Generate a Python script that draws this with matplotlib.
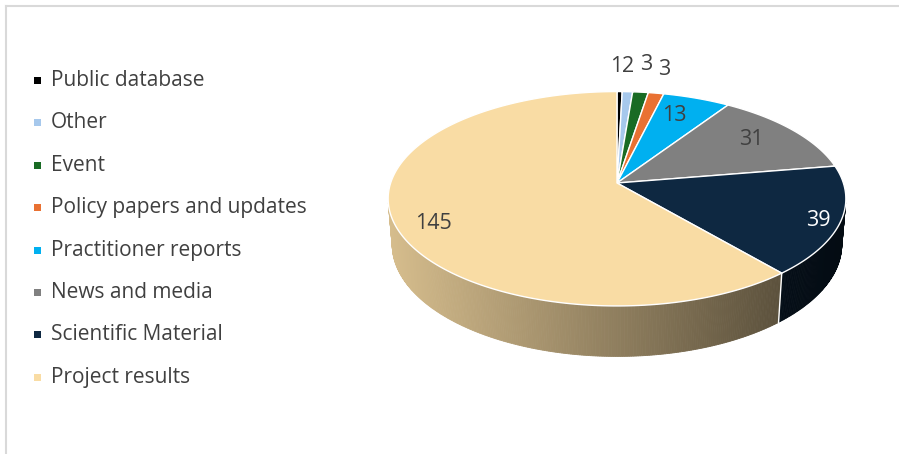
import numpy as np
import matplotlib.pyplot as plt
from matplotlib.patches import Polygon, Rectangle

# categories and counts, in drawing order (clockwise from 12 o'clock)
categories = ["Public database", "Other", "Event", "Policy papers and updates",
              "Practitioner reports", "News and media", "Scientific Material",
              "Project results"]
counts = [1, 2, 3, 3, 13, 31, 39, 145]
colors = ["#000000", "#A6C8EC", "#196B24", "#E97132",
          "#00B0F0", "#808080", "#0E2841", "#F9DCA4"]
label_colors = ["#404040"] * 6 + ["#FFFFFF", "#404040"]

# label placement: radius on the top face and pixel nudge
label_radius = [1.3, 1.3, 1.3, 1.3, 0.8, 0.8, 0.9, 0.82]
label_nudge = [(-4, -2), (-2, -2), (0, -5), (-2, -1), (-8, 2), (-8, -1), (1, 3), (-2, 10)]

FONT = "Open Sans"

W, H_PX = 899, 454
fig = plt.figure(figsize=(W / 100, H_PX / 100), dpi=100)
ax = fig.add_axes([0, 0, 1, 1])
ax.set_xlim(0, W)
ax.set_ylim(H_PX, 0)
ax.axis("off")

# perspective camera for the cylinder
phi = np.radians(27.6)
D = 6.03
F = 1365.0
CX, CY = 617.0, 183.0
THICK = 0.23


def project(theta, r, z):
    X = r * np.sin(theta)
    Y = r * np.cos(theta)
    v = Y * np.sin(phi) + z * np.cos(phi)
    w = Y * np.cos(phi) - z * np.sin(phi)
    s = F / (D + w)
    return CX + X * s, CY - v * s, w


def wall_factor(x):
    # lighter on the left, darker towards the right
    t = np.clip((x - 388) / 400.0, 0, 1.2)
    return 0.86 - 0.50 * t


def shade(color, f):
    c = np.array(plt.matplotlib.colors.to_rgb(color))
    return tuple(np.clip(c * f, 0, 1))


total = sum(counts)
bounds = np.concatenate([[0], np.cumsum(counts)]) / total * 2 * np.pi

# side walls
quads = []
for i, col in enumerate(colors):
    a0, a1 = bounds[i], bounds[i + 1]
    n = max(2, int(np.degrees(a1 - a0) * 2))
    ts = np.linspace(a0, a1, n + 1)
    for t0, t1 in zip(ts[:-1], ts[1:]):
        tm = 0.5 * (t0 + t1)
        if np.cos(tm) >= -1 / (D * np.cos(phi)):
            continue
        p0 = project(t0, 1, 0)
        p1 = project(t1, 1, 0)
        p2 = project(t1, 1, -THICK)
        p3 = project(t0, 1, -THICK)
        xm = 0.5 * (p0[0] + p1[0])
        fc = shade(col, wall_factor(xm))
        quads.append((p0[2], [(p0[0], p0[1]), (p1[0], p1[1]),
                              (p2[0], p2[1]), (p3[0], p3[1])], fc))
quads.sort(key=lambda q: -q[0])
for _, pts, fc in quads:
    ax.add_patch(Polygon(pts, closed=True, facecolor=fc, edgecolor=fc,
                         lw=0.6, zorder=2))

# white seams where slice boundaries meet the visible wall
for b in bounds[1:-1]:
    if np.cos(b) < -1 / (D * np.cos(phi)):
        xa, ya, _ = project(b, 1, 0)
        xb, yb, _ = project(b, 1, -THICK)
        ax.plot([xa, xb], [ya, yb], color="white", lw=1.0, zorder=3)

# top face
for i, col in enumerate(colors):
    ts = np.linspace(bounds[i], bounds[i + 1], 200)
    xs, ys, _ = project(ts, 1, 0)
    pts = [(CX, CY)] + list(zip(xs, ys))
    ax.add_patch(Polygon(pts, closed=True, facecolor=col, edgecolor="white",
                         lw=1.0, joinstyle="round", zorder=4))

# value labels
for i, val in enumerate(counts):
    tm = 0.5 * (bounds[i] + bounds[i + 1])
    x, y, _ = project(tm, label_radius[i], 0)
    dx, dy = label_nudge[i]
    ax.text(x + dx, y + dy, str(val), ha="center", va="center",
            fontsize=15.5, color=label_colors[i], family=FONT, zorder=5)

# legend
row_y0, row_step = 80.5, 42.4
for i, (name, col) in enumerate(zip(categories, colors)):
    y = row_y0 + i * row_step
    ax.add_patch(Rectangle((34, y - 3.5), 7, 7, facecolor=col,
                           edgecolor="none", zorder=5))
    ax.text(51, y, name, ha="left", va="center", fontsize=15,
            color="#404040", family=FONT, zorder=5)

# chart frame
ax.plot([5.5, W], [5.5, 5.5], color="#D9D9D9", lw=1.5, zorder=1)
ax.plot([5.5, 5.5], [5.5, H_PX], color="#D9D9D9", lw=1.5, zorder=1)

fig.savefig("out.png", dpi=100, facecolor="white")
